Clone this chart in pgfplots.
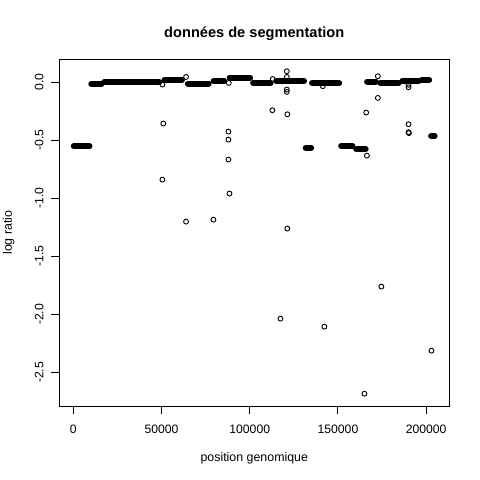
\documentclass[border=0pt]{standalone}
\usepackage{fontspec}
\setmainfont{Liberation Sans}
\usepackage{pgfplots}
\pgfplotsset{compat=1.18}
\begin{document}
\begin{tikzpicture}[x=1pt,y=1pt]
\path[use as bounding box] (0,0) rectangle (480,480);
\begin{axis}[
  at={(59.3pt,74pt)}, anchor=south west,
  scale only axis, width=390pt, height=346.7pt,
  xmin=-7950, xmax=213100, ymin=-2.79, ymax=0.198,
  axis line style={line width=1pt},
  tick align=outside, major tick length=8pt,
  tick style={black, line width=1pt},
  xtick pos=left, ytick pos=left,
  xtick={0,50000,100000,150000,200000},
  ytick={-2.5,-2,-1.5,-1,-0.5,0},
  scaled ticks=false,
  /pgf/number format/assume math mode=true,
  ticklabel style={font=\fontsize{12.2}{14}\selectfont, inner sep=0pt},
  xticklabel style={/pgf/number format/fixed, /pgf/number format/1000 sep={}, anchor=north},
  yticklabel style={/pgf/number format/fixed, /pgf/number format/fixed zerofill, /pgf/number format/precision=1, rotate=90, anchor=south},
  xticklabel shift=11pt,
  yticklabel shift=7.5pt,
  title={données de segmentation},
  title style={at={(axis description cs:0.5,1)}, anchor=base, yshift=16pt, font=\bfseries\fontsize{14.6}{17}\selectfont},
  xlabel={position genomique},
  xlabel style={at={(axis description cs:0.5,0)}, anchor=base, yshift=-56pt, font=\fontsize{12.4}{14}\selectfont},
  ylabel={log ratio},
  ylabel style={at={(axis description cs:-0.1213,0.5)}, anchor=base, font=\fontsize{12.4}{14}\selectfont},
  clip=false,
]
% dense segments (plotted as thick runs)
\pgfplotsset{band/.style={black, line width=6pt, line cap=round, no marks}}
\addplot[band] coordinates {(250,-0.552) (9200,-0.552)};
\addplot[band] coordinates {(10200,-0.011) (16000,-0.011)};
\addplot[band] coordinates {(17500,0.0) (48800,0.0)};
\addplot[band] coordinates {(51700,0.023) (61600,0.023)};
\addplot[band] coordinates {(64900,-0.011) (76700,-0.011)};
\addplot[band] coordinates {(79500,0.011) (85500,0.011)};
\addplot[band] coordinates {(88600,0.040) (100200,0.040)};
\addplot[band] coordinates {(101900,-0.006) (111800,-0.006)};
\addplot[band] coordinates {(115000,0.011) (130800,0.011)};
\addplot[band] coordinates {(131700,-0.564) (134800,-0.564)};
\addplot[band] coordinates {(135300,-0.006) (150700,-0.006)};
\addplot[band] coordinates {(151800,-0.549) (158200,-0.549)};
\addplot[band] coordinates {(160300,-0.575) (165700,-0.575)};
\addplot[band] coordinates {(166500,0.006) (171500,0.006)};
\addplot[band] coordinates {(174000,-0.003) (184500,-0.003)};
\addplot[band] coordinates {(186500,0.011) (195800,0.011)};
\addplot[band] coordinates {(197500,0.020) (201700,0.020)};
\addplot[band] coordinates {(202800,-0.463) (204800,-0.463)};
% isolated points
\addplot[only marks, mark=o, mark size=2.45pt, mark options={line width=0.9pt, black}] coordinates {
(50500,-0.020) (63900,0.046) (51000,-0.356) (88100,-0.006)
(87900,-0.425) (87900,-0.494) (87900,-0.666) (50500,-0.839)
(88500,-0.959) (63900,-1.201) (79400,-1.184)
(121000,0.095) (121000,0.046) (113000,0.028) (121000,-0.063) (121000,-0.083)
(112800,-0.241) (121300,-0.276) (121300,-1.261)
(141400,-0.034) (172600,0.052) (172600,-0.135) (166000,-0.261) (166400,-0.632)
(190000,-0.022) (190000,-0.043) (190000,-0.362) (190000,-0.430) (190200,-0.438)
(117400,-2.037) (142300,-2.106) (165000,-2.684) (174600,-1.761) (203000,-2.313)
};
\end{axis}
\end{tikzpicture}
\end{document}
